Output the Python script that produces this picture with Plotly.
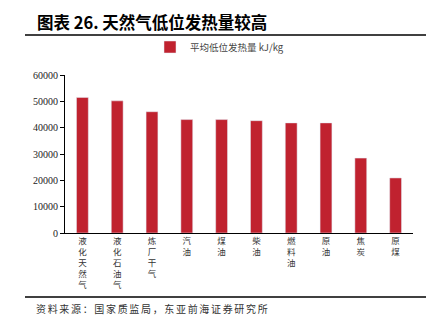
import plotly.graph_objects as go

categories = ["液化天然气", "液化石油气", "炼厂干气", "汽油", "煤油", "柴油", "燃料油", "原油", "焦炭", "原煤"]
values = [51498, 50179, 46055, 43070, 43070, 42652, 41816, 41816, 28435, 20908]
series_name = "平均低位发热量 kJ/kg"
yticks = [0, 10000, 20000, 30000, 40000, 50000, 60000]

cjk = "Noto Sans CJK SC"
tick_text = ["<br>".join(list(c)) for c in categories]

fig = go.Figure()
fig.add_trace(go.Bar(x=categories, y=values, name=series_name,
                     marker=dict(color="#C0222F"), width=0.34))

L, R, T, B = 65, 30, 75, 95
W, H = 443, 328
pw, ph = W - L - R, H - T - B
def px(x): return (x - L) / pw
def py(y): return (H - B - y) / ph

source = "资料来源：国家质监局，东亚前海证券研究所"
source_spaced = "\u2006".join(list(source))

fig.update_layout(
    width=W, height=H, margin=dict(l=L, r=R, t=T, b=B),
    plot_bgcolor="white", paper_bgcolor="white",
    showlegend=True,
    legend=dict(orientation="h", x=px(150), xanchor="left", y=py(47), yanchor="middle",
                font=dict(family=cjk, size=9.5, color="#444"),
                bgcolor="rgba(0,0,0,0)"),
    bargap=0.66,
    xaxis=dict(tickmode="array", tickvals=categories, ticktext=tick_text,
               tickfont=dict(family=cjk, size=8.5, color="#333"), tickangle=0,
               showline=True, linecolor="black", linewidth=1, ticks="", showgrid=False,
               fixedrange=True),
    yaxis=dict(range=[0, 60000], tickvals=yticks, ticktext=[str(v) for v in yticks],
               tickfont=dict(family="Liberation Serif", size=10, color="#222"),
               showline=True, linecolor="black", linewidth=1, ticks="outside", ticklen=4,
               tickcolor="black", showgrid=False, zeroline=False),
    shapes=[
        dict(type="line", xref="paper", yref="paper", x0=px(25), x1=px(426), y0=py(35), y1=py(35),
             line=dict(color="black", width=1.5)),
        dict(type="line", xref="paper", yref="paper", x0=px(25), x1=px(426), y0=py(297), y1=py(297),
             line=dict(color="black", width=1.5)),
    ],
    annotations=[
        dict(text="<b>图表 26. 天然气低位发热量较高</b>", xref="paper", yref="paper",
             x=px(35), y=py(22), xanchor="left", yanchor="middle", showarrow=False,
             font=dict(family=cjk, size=16.5, color="black")),
        dict(text=source_spaced, xref="paper", yref="paper",
             x=px(34), y=py(308), xanchor="left", yanchor="middle", showarrow=False,
             font=dict(family=cjk, size=10, color="#333")),
    ],
)

fig.write_html("out.html")
